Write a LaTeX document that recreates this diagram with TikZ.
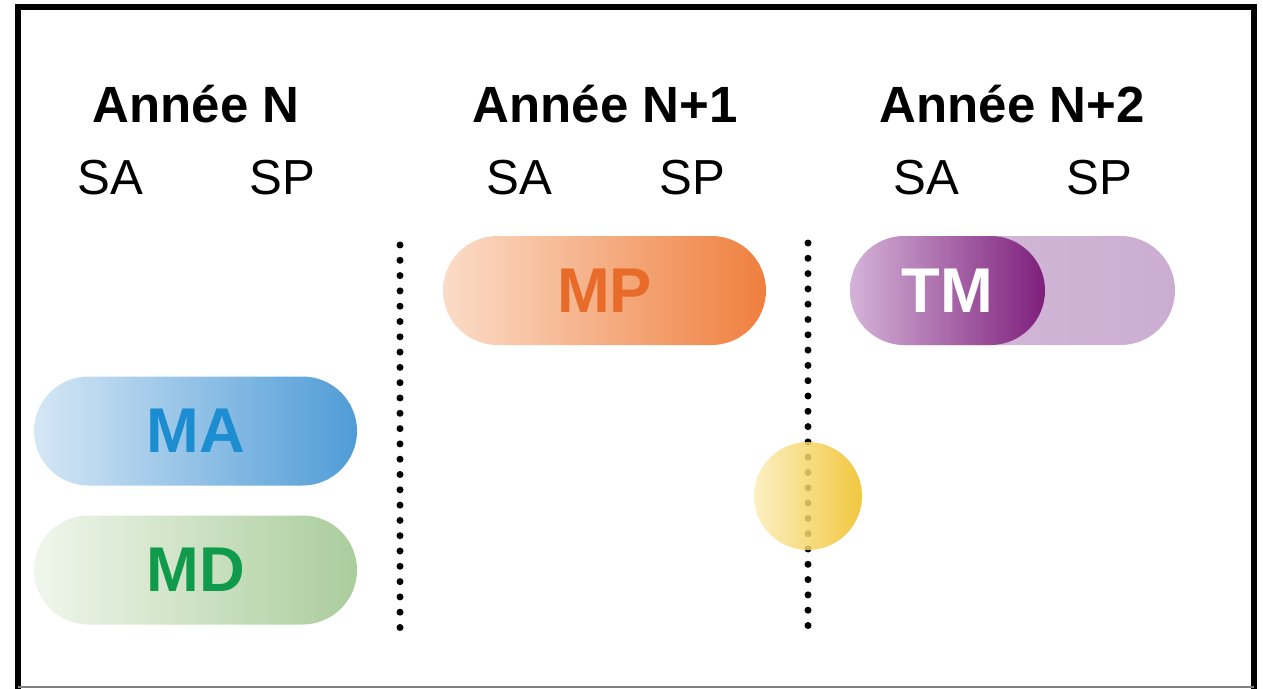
\documentclass[tikz,border=0pt]{standalone}
\usepackage{fontspec}
\setmainfont{Liberation Sans}
\usepackage{tikz}
\usetikzlibrary{shapes.misc}

\definecolor{mpL}{HTML}{FBDCC8}
\definecolor{mpR}{HTML}{EF7F3E}
\definecolor{mpT}{HTML}{E96B2A}
\definecolor{maL}{HTML}{D5E7F5}
\definecolor{maR}{HTML}{4F9CD7}
\definecolor{maT}{HTML}{1B8DD0}
\definecolor{mdL}{HTML}{F0F6EC}
\definecolor{mdR}{HTML}{AACD9C}
\definecolor{mdT}{HTML}{0F9A4C}
\definecolor{tmL}{HTML}{D4B3D8}
\definecolor{tmR}{HTML}{7E1F7C}
\definecolor{tmB}{HTML}{CBADD1}
\definecolor{ylL}{HTML}{FBEDB8}
\definecolor{ylR}{HTML}{F0BE1E}

\begin{document}
\begin{tikzpicture}[every node/.append style={font=\fontsize{28}{32}\selectfont}]
    \tikzstyle{pill}=[shape=rounded rectangle,inner sep=0pt,minimum width=6.46cm,minimum height=2.18cm,font=\fontsize{36}{40}\selectfont\bfseries];
    \tikzstyle{year}=[font=\fontsize{29}{34}\selectfont\bfseries];
    \tikzstyle{sem}=[font=\fontsize{28}{32}\selectfont];
    \tikzstyle{sep}=[line width=0.14cm,line cap=round,dash pattern=on 0pt off 0.306cm];
    \useasboundingbox (0,0) rectangle (25.26,13.76);
    %frame
    \draw[line width=0.12cm,line join=miter] (0.36,-0.2) -- (0.36,13.61) -- (25.08,13.61) -- (25.08,-0.2);
    \draw[gray,line width=0.04cm] (0.36,0.02) -- (25.08,0.02);
    %headers
    \node[year] (y0) at (3.92,11.68) {Année N};
    \node[year] (y1) at (12.1,11.68) {Année N+1};
    \node[year] (y2) at (20.24,11.68) {Année N+2};
    \node[sem] (sa0) at (2.2,10.2) {SA};
    \node[sem] (sp0) at (5.64,10.2) {SP};
    \node[sem] (sa1) at (10.38,10.2) {SA};
    \node[sem] (sp1) at (13.84,10.2) {SP};
    \node[sem] (sa2) at (18.52,10.2) {SA};
    \node[sem] (sp2) at (21.98,10.2) {SP};
    %separators
    \coordinate (s1a) at (8.0,8.86);
    \coordinate (s1b) at (8.0,1.2);
    \coordinate (s2a) at (16.16,8.9);
    \coordinate (s2b) at (16.16,1.2);
    \draw[sep] (s1a) -- (s1b);
    \draw[sep] (s2a) -- (s2b);
    %pills
    \node[pill,left color=mpL,right color=mpR,text=mpT] (mp) at (12.09,7.95) {MP};
    \node[pill,left color=tmB!80!white,right color=tmB,minimum width=6.5cm] (tmb) at (20.25,7.95) {};
    \node[pill,left color=tmL,right color=tmR,text=white,minimum width=3.9cm] (tm) at (18.95,7.95) {TM};
    \node[pill,left color=maL,right color=maR,text=maT] (ma) at (3.91,5.14) {MA};
    \node[pill,left color=mdL,right color=mdR,text=mdT] (md) at (3.91,2.36) {MD};
    %circle
    \node[circle,inner sep=0pt,minimum size=2.16cm,left color=ylL,right color=ylR,fill opacity=0.85] (yl) at (16.16,3.84) {};
\end{tikzpicture}
\end{document}
